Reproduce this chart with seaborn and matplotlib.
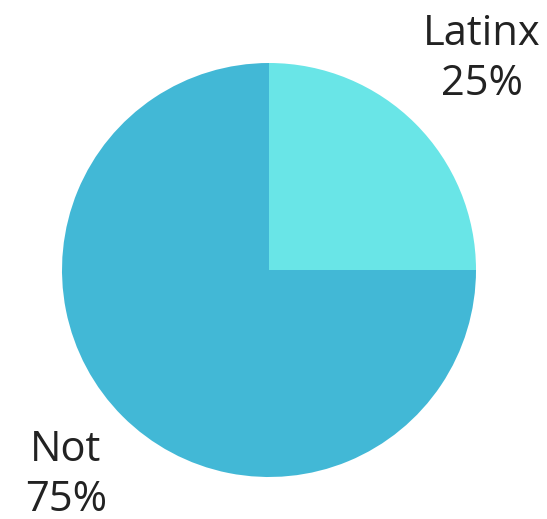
import matplotlib
matplotlib.use("Agg")
import matplotlib.pyplot as plt
import seaborn as sns

# data
groups = ["Latinx", "Not"]
shares = [25, 75]
colors = ["#69E5E7", "#42B8D6"]

sns.set_theme(style="white")
plt.rcParams['font.family'] = ['Open Sans', 'DejaVu Sans']

fig = plt.figure(figsize=(5.47, 5.19), dpi=100)
ax = fig.add_axes([0, 0, 1, 1])

ax.pie(shares, colors=colors, startangle=0, counterclock=True,
       center=(269, 249), radius=207,
       wedgeprops=dict(linewidth=0))

# pie resets the limits, so set them afterwards
ax.set_xlim(0, 547)
ax.set_ylim(0, 519)
ax.set_aspect('equal')
ax.axis('off')

label_pos = [(482, 460), (66, 44)]
for g, s, (x, y) in zip(groups, shares, label_pos):
    ax.text(x, y, f"{g}\n{s}%", ha='center', va='center', fontsize=30,
            color='#222222', linespacing=1.22)

fig.savefig("out.png", dpi=100)
